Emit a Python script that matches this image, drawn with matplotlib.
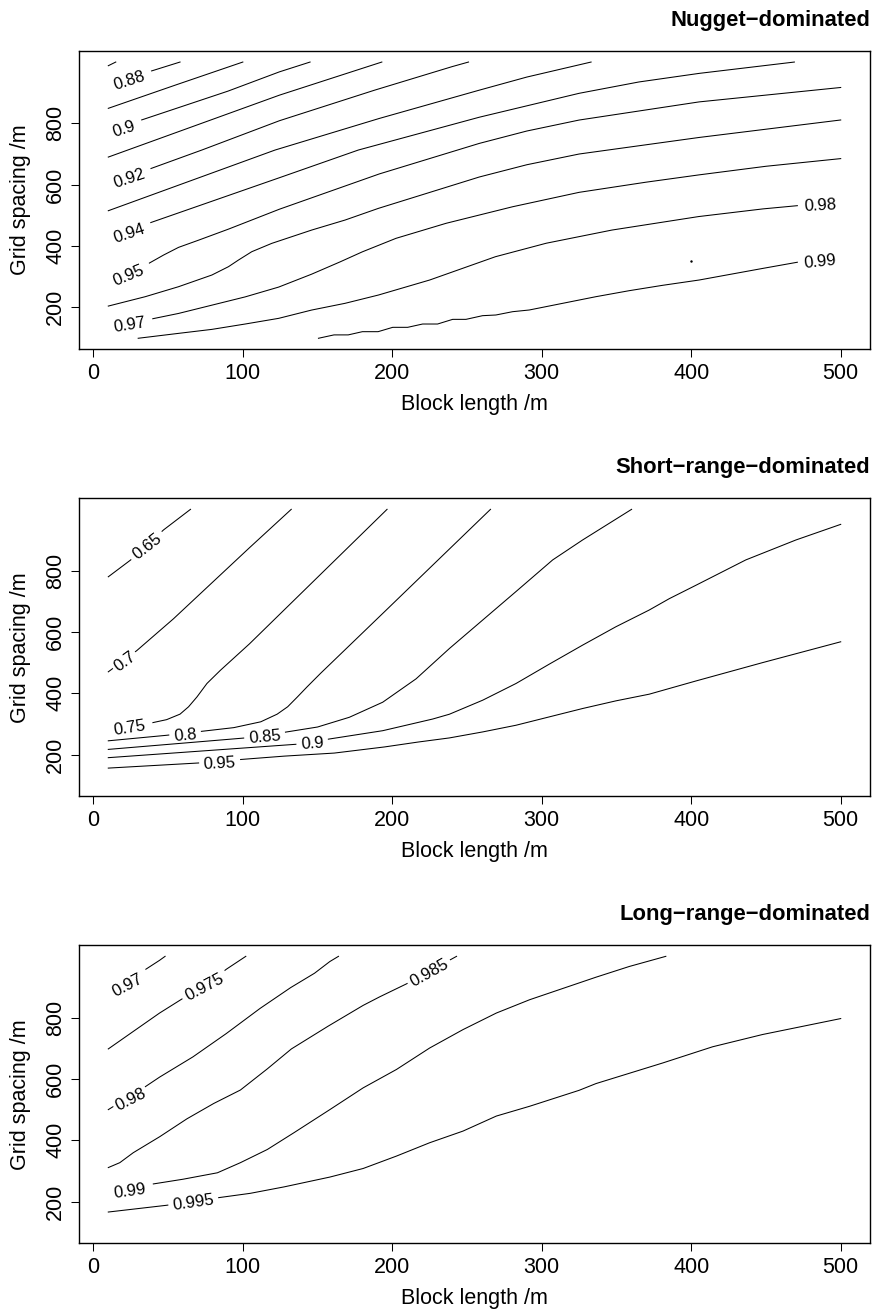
import matplotlib
matplotlib.use("Agg")
import matplotlib.pyplot as plt
import matplotlib.transforms as mtransforms
from matplotlib.patches import Rectangle
from matplotlib.textpath import TextPath
from matplotlib.font_manager import FontProperties

plt.rcParams['font.family'] = ['Liberation Sans', 'DejaVu Sans']

# ---------------- shared axis data ----------------
x_ticks = [0, 100, 200, 300, 400, 500]
y_ticks = [200, 400, 600, 800]
x_label = "Block length /m"
y_label = "Grid spacing /m"
titles = ["Nugget\u2212dominated", "Short\u2212range\u2212dominated", "Long\u2212range\u2212dominated"]

# ---------------- Panel 1: Nugget-dominated ----------------
nug_levels = [0.87, 0.88, 0.89, 0.90, 0.91, 0.92, 0.93, 0.94, 0.95, 0.96, 0.97, 0.98, 0.99]
nug_x = [
    [10, 15],
    [10, 37, 58],
    [10, 55, 100],
    [10, 31, 90, 124.5, 145],
    [10, 124.5, 160, 193],
    [10, 37, 72.6, 124.5, 188, 240, 251],
    [10, 121.6, 191.3, 258, 290, 333],
    [10, 37, 124.5, 177.3, 258.2, 325, 365, 405.3, 469],
    [10, 37, 47, 57, 70.4, 90.4, 124.5, 191.3, 258.2, 290, 325, 405.3, 500],
    [10, 34.7, 57, 79.3, 90.4, 97.1, 106, 119.4, 146.1, 168.4, 190.7, 258.2, 290, 325, 405.3, 500],
    [10, 38, 57, 79.3, 101.6, 124, 146, 165, 180, 202.5, 236, 280.5, 325, 369.6, 405.3, 450, 500],
    [30, 57, 79.3, 101.6, 124, 146, 168.4, 190.7, 225, 247, 269, 303, 347, 405, 448, 471],
    [150.6, 161, 170.5, 180, 190.5, 200.3, 210.3, 220.3, 230.3, 240.4, 249.3, 260.4, 269.3,
     280.5, 291.6, 313.9, 336.2, 358.5, 380.7, 405.3, 448, 471],
]
nug_y = [
    [988, 1000],
    [928, 968, 1000],
    [849, 925, 1000],
    [773, 809, 905, 968, 1000],
    [690, 892, 948, 1000],
    [601, 650, 713, 808.6, 908, 985, 1000],
    [515, 713, 816, 908, 951, 1000],
    [433, 474, 622.7, 713, 820, 898, 935, 963, 1000],
    [295, 343, 370.5, 395.5, 419, 455, 520, 635, 734.6, 775, 810.8, 870, 917],
    [204, 234.6, 267.2, 305.3, 332.5, 354.2, 381.4, 408.6, 452, 484.6, 522.7, 625, 665, 700, 754, 811],
    [145, 161, 180, 207, 234, 266, 308, 348, 381, 425, 474, 528, 575, 608, 632, 660, 685],
    [99, 115, 128, 145.5, 164, 191, 213, 240, 289, 327, 365, 409, 452, 496, 521, 531.5],
    [99, 110, 110, 120.5, 120.5, 134.7, 134.7, 145.5, 145.5, 160.7, 160.7, 172.7, 174.9,
     185.7, 191.2, 212.9, 234.6, 254.2, 271.6, 289, 327, 347],
]
nug_dot_x = [400]
nug_dot_y = [350]
nug_lab_text = ["0.88", "0.9", "0.92", "0.94", "0.95", "0.97", "0.98", "0.99"]
nug_lab_x = [23.8, 20.4, 23.6, 23.6, 23.1, 24, 486, 486]
nug_lab_y = [945, 786, 624, 444, 308.5, 148, 537, 354]
nug_lab_rot = [18, 18, 18.5, 18.5, 22.5, 9, 3, 6]

# ---------------- Panel 2: Short-range-dominated ----------------
sr_levels = [0.65, 0.70, 0.75, 0.80, 0.85, 0.90, 0.95]
sr_x = [
    [10, 25, 47, 65],
    [10, 29, 53.6, 104.5, 132.4],
    [10, 39, 49, 58, 63.7, 69.3, 76, 85, 104.5, 196.5],
    [10, 49, 72.6, 94, 112, 123, 130, 136.5, 143, 152, 195, 240, 265.7],
    [10, 100.7, 127.9, 150, 171.3, 193.6, 215.9, 238.2, 260.5, 282.8, 307.3, 327.3, 360.1],
    [10, 136.5, 158, 193.6, 227, 238.2, 260.5, 282.8, 305, 327.3, 349.6, 371.9, 385.3, 403, 436.5, 470, 500],
    [10, 71.5, 98.4, 127.6, 161.2, 194.8, 217.3, 238.2, 260.5, 282.8, 305, 327.3, 349.6, 371.9, 403, 447.7, 500],
]
sr_y = [
    [780, 835, 933, 1000],
    [470, 539, 643, 875, 1000],
    [278, 303.5, 314, 332, 356, 388, 432, 475, 561.5, 1000],
    [245, 263, 276, 288, 307, 332, 356, 388, 421, 465, 667, 879, 1000],
    [217, 254, 272.8, 290, 321.8, 370.9, 447.1, 546, 639, 732, 835, 900, 1000],
    [190, 234, 251, 278, 316, 331.7, 377.5, 432, 495, 557, 617, 671.6, 708.6, 752, 835, 900, 951],
    [156, 173, 184, 195, 205, 225, 241, 254.4, 274, 295.8, 323, 350.3, 375.3, 397.1, 440, 500, 568],
]
sr_lab_text = ["0.65", "0.7", "0.75", "0.8", "0.85", "0.9", "0.95"]
sr_lab_x = [35.2, 20.8, 24, 61.4, 114.6, 146.4, 84.5]
sr_lab_y = [884, 506, 290.4, 268.6, 261, 240, 176]
sr_lab_rot = [38, 36, 9, 5, 5, 4, 3]

# ---------------- Panel 3: Long-range-dominated ----------------
lr_levels = [0.970, 0.975, 0.980, 0.985, 0.990, 0.995]
lr_x = [
    [10, 34.5, 44.3, 48],
    [10, 26.7, 44.3, 60.3, 75, 89, 102],
    [10, 34.5, 44.3, 66.6, 88.9, 111.5, 132, 148, 158.2, 164],
    [10, 17.7, 26.7, 44.5, 62.6, 80.5, 98.4, 116.4, 132.5, 157, 180.5, 191.6, 209.4, 243],
    [10, 38, 60, 83, 98.4, 116.4, 134.3, 158.2, 180.5, 202.8, 225, 247.3, 269.6, 291.9, 336.3, 358.6, 383],
    [10, 49, 84, 105, 127.6, 158.2, 180.5, 202.8, 225, 247.3, 269.6, 291.9, 325, 336.3, 380.8, 414.3, 447.7, 500],
]
lr_y = [
    [880, 956, 987, 1000],
    [698, 755, 815, 864, 905, 958, 1000],
    [500, 574, 606, 672, 748, 830, 898, 945, 983, 1000],
    [311, 327, 359.5, 412, 470, 520, 564, 633, 698, 772, 840, 868, 910, 1000],
    [236, 256, 273, 294, 327, 370, 425, 500, 571, 631, 701, 761, 815, 858.5, 932, 967, 1000],
    [166, 188, 213, 227, 248, 280, 308, 348.5, 392, 430, 479, 511, 563, 585, 652, 705, 745, 797],
]
lr_lab_text = ["0.97", "0.975", "0.98", "0.985", "0.99", "0.995"]
lr_lab_x = [22.2, 74.3, 24.5, 224.3, 24.4, 66.8]
lr_lab_y = [910, 902, 537, 951, 240, 202]
lr_lab_rot = [28, 28, 27, 29, 8, 8]

# gap (px) left clear along the line on each side of every label
nug_lab_gap = [8, 8, 8, 8, 8, 8, 5, 5]
sr_lab_gap = [5, 3, 8, 5, 5, 5, 5]
lr_lab_gap = [8, 5, 3, 4, 8, 5]

panels = [
    (nug_x, nug_y, nug_lab_text, nug_lab_x, nug_lab_y, nug_lab_rot, nug_lab_gap),
    (sr_x, sr_y, sr_lab_text, sr_lab_x, sr_lab_y, sr_lab_rot, sr_lab_gap),
    (lr_x, lr_y, lr_lab_text, lr_lab_x, lr_lab_y, lr_lab_rot, lr_lab_gap),
]

DPI = 100
W, H = 874, 1313
fig = plt.figure(figsize=(W / DPI, H / DPI), dpi=DPI)

ax_left = 79 / W
ax_w = 791 / W
ax_h = 298 / H
bottoms = [1 - 349 / H, 1 - 796.3 / H, 1 - 1243.3 / H]

LAB_SIZE = 12
lab_fp = FontProperties(family='Liberation Sans', size=LAB_SIZE)
digit_h = 0.716 * LAB_SIZE * DPI / 72.0   # px
gap_across = 2.0


def contour_label(ax, x, y, s, rot, gap_along):
    ext = TextPath((0, 0), s, prop=lab_fp).get_extents()
    w = ext.width * DPI / 72.0
    trans = mtransforms.Affine2D().rotate_deg(rot) + mtransforms.ScaledTranslation(x, y, ax.transData)
    ax.add_patch(Rectangle((-w / 2 - gap_along, -digit_h / 2 - gap_across),
                           w + 2 * gap_along, digit_h + 2 * gap_across,
                           transform=trans, facecolor='white', edgecolor='none',
                           zorder=2.5, clip_on=False))
    ax.text(0, -digit_h / 2, s, transform=trans, fontproperties=lab_fp,
            rotation=rot, rotation_mode='anchor', ha='center', va='baseline', zorder=3)


for i, (xs_list, ys_list, lt, lx, ly, lrot, lgap) in enumerate(panels):
    ax = fig.add_axes([ax_left, bottoms[i], ax_w, ax_h])
    ax.set_xlim(-9.6, 519.6)
    ax.set_ylim(64, 1036)
    for xs, ys in zip(xs_list, ys_list):
        ax.plot(xs, ys, color='black', lw=0.75, solid_joinstyle='round', zorder=2)
    if i == 0:
        ax.plot(nug_dot_x, nug_dot_y, marker='s', markersize=0.7, color='black',
                linestyle='none', zorder=2)
    for t, x, y, r, g in zip(lt, lx, ly, lrot, lgap):
        contour_label(ax, x, y, t, r, g)
    ax.set_xticks(x_ticks, labels=[str(v) for v in x_ticks])
    ax.set_yticks(y_ticks, labels=[str(v) for v in y_ticks], rotation=90, va='center')
    ax.tick_params(direction='out', length=5.5, width=0.75, labelsize=15.5, color='black')
    ax.tick_params(axis='x', pad=4.7)
    ax.tick_params(axis='y', pad=3.8)
    for sp in ax.spines.values():
        sp.set_linewidth(1.0)
        sp.set_zorder(4)
    ax.set_xlabel(x_label, fontsize=15.5, va='baseline')
    ax.xaxis.set_label_coords(0.5, -61 / 298)
    ax.set_ylabel(y_label, fontsize=15.5, va='baseline')
    ax.yaxis.set_label_coords((26.5 - 79) / 791, 0.5)
    ax.set_title(titles[i], loc='right', fontsize=15.8, fontweight='bold', pad=18)

fig.savefig('out.png', dpi=DPI)
